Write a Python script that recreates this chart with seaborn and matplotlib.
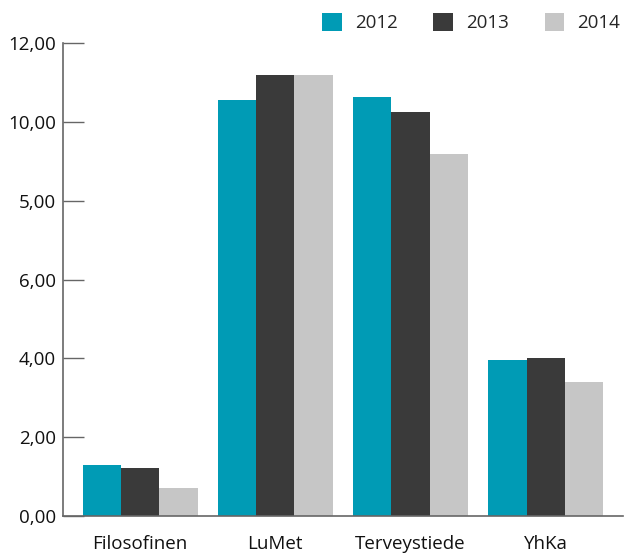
import matplotlib
matplotlib.use("Agg")
import matplotlib.pyplot as plt
import seaborn as sns
import pandas as pd

categories = ["Filosofinen", "LuMet", "Terveystiede", "YhKa"]
years = ["2012", "2013", "2014"]
v2012 = [1.29, 10.56, 10.63, 3.96]
v2013 = [1.22, 11.19, 10.25, 4.01]
v2014 = [0.71, 11.19, 9.19, 3.40]
ytick_vals = [0, 2, 4, 6, 8, 10, 12]
ytick_labels = ["0,00", "2,00", "4,00", "6,00", "5,00", "10,00", "12,00"]
colors = ["#009bb5", "#3a3a3a", "#c6c6c6"]

rows = []
for yr, vals in zip(years, [v2012, v2013, v2014]):
    for c, v in zip(categories, vals):
        rows.append({"cat": c, "year": yr, "val": v})
df = pd.DataFrame(rows)

sns.set_style("white")
plt.rcParams['font.family'] = ['Open Sans', 'DejaVu Sans']
plt.rcParams['ytick.direction'] = 'in'

fig = plt.figure(figsize=(6.24, 5.54), dpi=100)
ax = fig.add_axes([0.101, 0.0686, 0.897, 0.8534])
sns.barplot(data=df, x="cat", y="val", hue="year", palette=colors,
            width=0.85, saturation=1, ax=ax, errorbar=None, legend=True)
for p in ax.patches:
    p.set_edgecolor("none")
ax.set_xlim(-0.57, 3.57)
ax.set_ylim(0, 12)
ax.set_yticks(ytick_vals)
ax.set_yticklabels(ytick_labels, fontsize=13.5, color="#111111")
ax.set_xticks(range(len(categories)))
ax.set_xticklabels(categories, fontsize=13.5, color="#111111")
ax.set_xlabel("")
ax.set_ylabel("")
ax.yaxis.set_tick_params(which="major", direction="in", length=15, width=1,
                         color="#666666", pad=5, left=True)
ax.tick_params(axis="x", length=0, pad=14)
for s in ["top", "right"]:
    ax.spines[s].set_visible(False)
for s in ["left", "bottom"]:
    ax.spines[s].set_color("#666666")
    ax.spines[s].set_linewidth(1.2)

handles, labels = ax.get_legend_handles_labels()
ax.get_legend().remove()
fig.legend(handles, labels, loc="upper right", bbox_to_anchor=(1.015, 1.0), ncol=3,
           frameon=False, fontsize=13.5, handlelength=1.05, handleheight=1.05,
           handletextpad=0.7, columnspacing=1.9, borderaxespad=0.3)

fig.savefig("out.png", dpi=100)
